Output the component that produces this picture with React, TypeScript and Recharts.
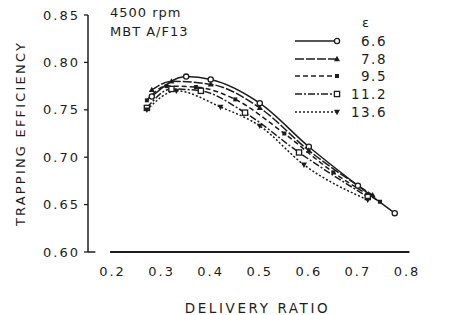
import React from "react";
import { LineChart, Line, XAxis, YAxis, ReferenceLine } from "recharts";

const xTicks = [0.2, 0.3, 0.4, 0.5, 0.6, 0.7, 0.8];
const yTicks = [0.6, 0.65, 0.7, 0.75, 0.8, 0.85];

const x66 = [0.28, 0.35, 0.4, 0.5, 0.6, 0.7, 0.775];
const y66 = [0.764, 0.785, 0.782, 0.757, 0.711, 0.67, 0.641];
const x78 = [0.28, 0.32, 0.4, 0.5, 0.6, 0.73];
const y78 = [0.771, 0.78, 0.777, 0.752, 0.707, 0.66];
const x95 = [0.27, 0.31, 0.37, 0.45, 0.55, 0.65, 0.745];
const y95 = [0.76, 0.775, 0.774, 0.761, 0.725, 0.684, 0.653];
const x112 = [0.27, 0.32, 0.38, 0.47, 0.58, 0.72];
const y112 = [0.752, 0.772, 0.77, 0.747, 0.705, 0.658];
const x136 = [0.27, 0.33, 0.42, 0.5, 0.59, 0.72];
const y136 = [0.75, 0.77, 0.753, 0.733, 0.692, 0.655];

const labels = ["6.6", "7.8", "9.5", "11.2", "13.6"];
const dashes = ["0", "9 2", "5 3", "7 2 2 2", "2 2"];
const markers = ["circle", "triangle", "filledSquare", "square", "triangleDown"];

const toData = (xs: number[], ys: number[]) => xs.map((x, i) => ({ x, y: ys[i] }));
const seriesData = [
  toData(x66, y66),
  toData(x78, y78),
  toData(x95, y95),
  toData(x112, y112),
  toData(x136, y136),
];

const INK = "#1c1c1c";
const FONT = "'DejaVu Sans', sans-serif";

function Marker({ kind, cx, cy }: { kind: string; cx: number; cy: number }) {
  if (cx == null || cy == null) return null;
  switch (kind) {
    case "circle":
      return <circle cx={cx} cy={cy} r={2.6} fill="#fff" stroke={INK} strokeWidth={1.3} />;
    case "triangle":
      return <polygon points={`${cx},${cy - 3.2} ${cx - 3},${cy + 2.2} ${cx + 3},${cy + 2.2}`} fill={INK} />;
    case "filledSquare":
      return <rect x={cx - 2} y={cy - 2} width={4} height={4} fill={INK} />;
    case "square":
      return <rect x={cx - 2.6} y={cy - 2.6} width={5.2} height={5.2} fill="#fff" stroke={INK} strokeWidth={1.3} />;
    case "triangleDown":
      return <polygon points={`${cx},${cy + 3.2} ${cx - 3},${cy - 2.2} ${cx + 3},${cy - 2.2}`} fill={INK} />;
    default:
      return null;
  }
}

function LegendBox() {
  return (
    <div style={{ position: "absolute", left: 294, top: 13, fontFamily: FONT, color: INK }}>
      <div style={{ fontSize: 13, marginLeft: 68, height: 19, lineHeight: "19px" }}>ε</div>
      {labels.map((lab, i) => (
        <div key={lab} style={{ display: "flex", alignItems: "center", height: 17.8 }}>
          <svg width={48} height={10} style={{ display: "block" }}>
            <line x1={1} y1={5} x2={42} y2={5} stroke={INK} strokeWidth={1.6} strokeDasharray={dashes[i]} />
            <Marker kind={markers[i]} cx={43} cy={5} />
          </svg>
          <span style={{ fontSize: 13.5, width: 45, textAlign: "right", letterSpacing: 1.5 }}>{lab}</span>
        </div>
      ))}
    </div>
  );
}

const tickStyle = { fontFamily: FONT, fontSize: 13, fill: INK, letterSpacing: 2 };

export default function App() {
  return (
    <div style={{ position: "relative", width: 451, height: 315, margin: "-8px 0 0 -8px", background: "#fff" }}>
      <LineChart width={451} height={315} margin={{ top: 15, right: 44, bottom: 2, left: 8 }}>
        <XAxis
          type="number"
          dataKey="x"
          domain={[0.15, 0.8]}
          ticks={xTicks}
          axisLine={false}
          tickLine={false}
          tickSize={6}
          tickMargin={9}
          height={61}
          tick={tickStyle}
          tickFormatter={(v: number) => v.toFixed(1)}
          allowDataOverflow
          label={{
            value: "DELIVERY RATIO",
            position: "insideBottom",
            offset: 0,
            dx: 10,
            style: { fontFamily: FONT, fontSize: 13.5, fill: INK, letterSpacing: 2.6 },
          }}
        />
        <YAxis
          type="number"
          dataKey="y"
          domain={[0.6, 0.85]}
          ticks={yTicks}
          width={80}
          axisLine={{ stroke: INK, strokeWidth: 1.5 }}
          tickLine={{ stroke: INK, strokeWidth: 1.3 }}
          tickSize={4}
          tickMargin={4}
          tick={tickStyle}
          tickFormatter={(v: number) => v.toFixed(2)}
          allowDataOverflow
          label={{
            value: "TRAPPING EFFICIENCY",
            angle: -90,
            position: "insideLeft",
            offset: 12,
            style: { fontFamily: FONT, fontSize: 13, fill: INK, letterSpacing: 2.2, textAnchor: "middle" },
          }}
        />
        <ReferenceLine
          segment={[{ x: 0.195, y: 0.6 }, { x: 0.805, y: 0.6 }]}
          stroke={INK}
          strokeWidth={1.8}
          ifOverflow="visible"
        />
        <ReferenceLine
          segment={[{ x: 0.15, y: 0.6 }, { x: 0.165, y: 0.6 }]}
          stroke={INK}
          strokeWidth={1.5}
          ifOverflow="visible"
        />
        {seriesData.map((d, i) => (
          <Line
            key={labels[i]}
            data={d}
            dataKey="y"
            name={labels[i]}
            type="monotone"
            stroke={INK}
            strokeWidth={1.5}
            strokeDasharray={dashes[i]}
            isAnimationActive={false}
            dot={(p: any) => <Marker key={`${i}-${p.index}`} kind={markers[i]} cx={p.cx} cy={p.cy} />}
            activeDot={false}
          />
        ))}
      </LineChart>
      <LegendBox />
      <div
        style={{
          position: "absolute",
          left: 110,
          top: 3,
          fontFamily: FONT,
          fontSize: 13,
          color: INK,
          lineHeight: "19px",
          letterSpacing: 1,
        }}
      >
        <div>4500 rpm</div>
        <div>MBT A/F13</div>
      </div>
    </div>
  );
}
